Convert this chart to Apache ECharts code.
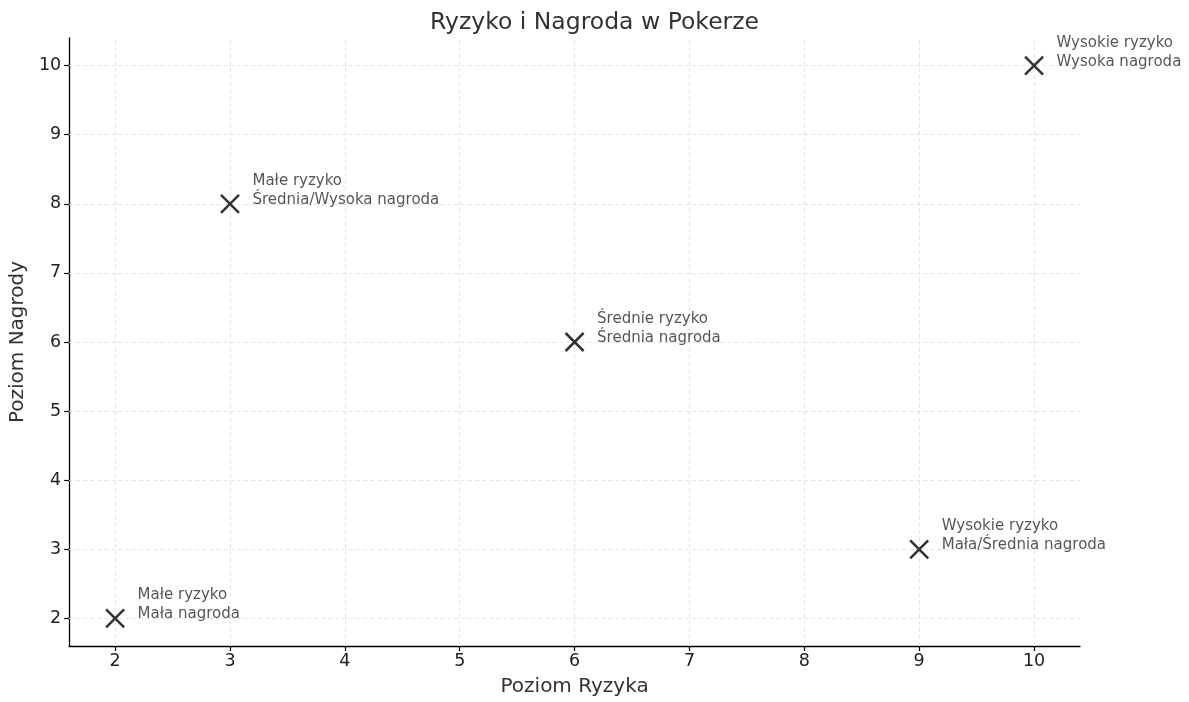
<!DOCTYPE html>
<html><head><meta charset="utf-8">
<script src="https://cdn.jsdelivr.net/npm/echarts@6/dist/echarts.min.js"></script>
<style>html,body{margin:0;padding:0;background:#fff;overflow:hidden}#c{width:1189px;height:702px}</style>
</head><body><div id="c"></div>
<script>
const riskLevels = [2, 3, 6, 9, 10];
const rewardLevels = [2, 8, 6, 3, 10];
const pointLabels = [
  'Małe ryzyko\nMała nagroda',
  'Małe ryzyko\nŚrednia/Wysoka nagroda',
  'Średnie ryzyko\nŚrednia nagroda',
  'Wysokie ryzyko\nMała/Średnia nagroda',
  'Wysokie ryzyko\nWysoka nagroda'
];
const tickValues = [2, 3, 4, 5, 6, 7, 8, 9, 10];
const chartTitle = 'Ryzyko i Nagroda w Pokerze';
const xName = 'Poziom Ryzyka';
const yName = 'Poziom Nagrody';

const font = 'DejaVu Sans';
const chart = echarts.init(document.getElementById('c'), null, {width: 1189, height: 702});
chart.setOption({
  animation: false,
  backgroundColor: '#fff',
  textStyle: {fontFamily: font},
  title: {text: chartTitle, left: 'center', top: 6, textStyle: {fontFamily: font, fontSize: 23.5, fontWeight: 'normal', color: '#333'}},
  grid: {left: 69, right: 109, top: 38, bottom: 50, containLabel: false},
  xAxis: {
    type: 'value', min: 1.6, max: 10.4,
    name: xName, nameLocation: 'middle', nameGap: 31,
    nameTextStyle: {fontSize: 20, color: '#333', fontFamily: font},
    axisLine: {show: true, onZero: false, lineStyle: {color: '#000', width: 1.3}},
    axisTick: {show: true, length: 5, lineStyle: {color: '#000', width: 1.2}, customValues: tickValues},
    axisLabel: {fontSize: 17.5, color: '#222', margin: 6, customValues: tickValues},
    splitLine: {show: false}
  },
  yAxis: {
    type: 'value', min: 1.6, max: 10.4,
    name: yName, nameLocation: 'middle', nameGap: 41,
    nameTextStyle: {fontSize: 20, color: '#333', fontFamily: font},
    axisLine: {show: true, onZero: false, lineStyle: {color: '#000', width: 1.3}},
    axisTick: {show: true, length: 5, lineStyle: {color: '#000', width: 1.2}, customValues: tickValues},
    axisLabel: {fontSize: 17.5, color: '#222', margin: 8, customValues: tickValues},
    splitLine: {show: false}
  },
  series: [{
    type: 'scatter',
    data: riskLevels.map((x, i) => [x, rewardLevels[i], pointLabels[i]]),
    symbol: 'path://M0,0L10,10M10,0L0,10',
    symbolSize: 18,
    itemStyle: {color: 'none', borderColor: '#000', borderWidth: 2.5},
    label: {
      show: true, position: [34, -21], align: 'left', verticalAlign: 'top',
      formatter: p => p.data[2], fontSize: 15, lineHeight: 19, color: '#2a2a2a', fontFamily: font
    },
    emphasis: {disabled: true},
    z: 5
  }, {
    type: 'scatter', data: [], silent: true,
    markLine: {
      silent: true, symbol: 'none', label: {show: false},
      lineStyle: {color: '#e4e4e4', type: [4, 3], width: 1},
      data: tickValues.map(v => ({xAxis: v})).concat(tickValues.map(v => ({yAxis: v})))
    },
    z: 1
  }]
});
</script></body></html>
